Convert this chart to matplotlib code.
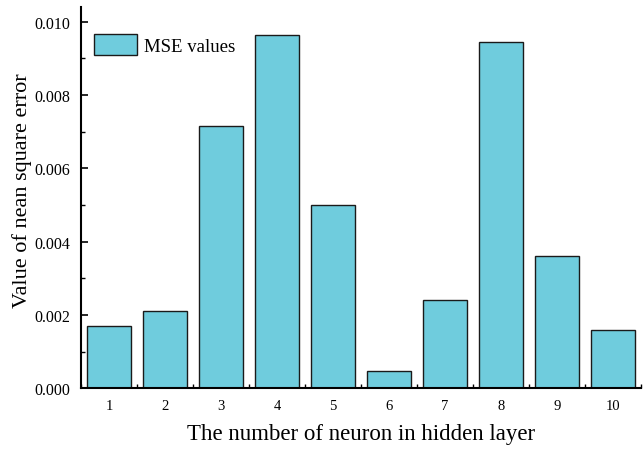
import matplotlib.pyplot as plt
from matplotlib.ticker import MultipleLocator, FormatStrFormatter

plt.rcParams["font.family"] = ["Liberation Serif", "DejaVu Serif"]

neurons = [1, 2, 3, 4, 5, 6, 7, 8, 9, 10]
mse = [0.0017, 0.0021, 0.00716, 0.00964, 0.0050, 0.00046, 0.0024, 0.00945, 0.0036, 0.0016]

fig = plt.figure(figsize=(6.43, 4.52), dpi=100)
ax = fig.add_axes([0.126, 0.139, 0.871, 0.843])

ax.bar(neurons, mse, width=0.8, color="#6FCCDD", edgecolor="#1a1a1a",
       linewidth=1.0, label="MSE values", zorder=2)

ax.set_xlim(0.5, 10.5)
ax.set_ylim(0, 0.0104)
ax.set_xticks(neurons)
ax.xaxis.set_minor_locator(MultipleLocator(0.5))
ax.yaxis.set_major_locator(MultipleLocator(0.002))
ax.yaxis.set_minor_locator(MultipleLocator(0.001))
ax.yaxis.set_major_formatter(FormatStrFormatter("%.3f"))

ax.tick_params(which="major", direction="in", length=5, width=1.2, labelsize=10.5)
ax.tick_params(which="minor", direction="in", length=3, width=1.0)
ax.tick_params(axis="x", pad=8)
ax.tick_params(axis="y", labelsize=11.5, pad=8)

for s in ["top", "right"]:
    ax.spines[s].set_visible(False)
for s in ["left", "bottom"]:
    ax.spines[s].set_linewidth(1.5)

ax.set_xlabel("The number of neuron in hidden layer", fontsize=16.5, labelpad=8)
ax.set_ylabel("Value of nean square error", fontsize=16)
ax.yaxis.set_label_coords(-0.088, 0.521)

ax.legend(loc="upper left", frameon=False, fontsize=13.5, handlelength=2.3,
          handleheight=1.4, handletextpad=0.35, bbox_to_anchor=(-0.007, 0.975))

plt.savefig("out.png", dpi=100)
